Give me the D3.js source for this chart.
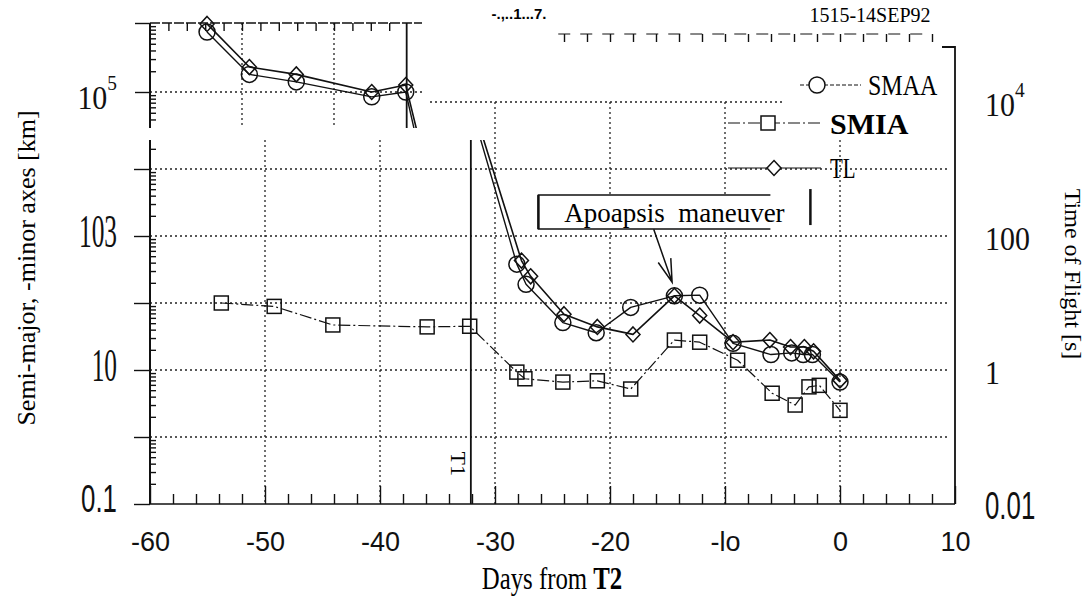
<!DOCTYPE html>
<html>
<head>
<meta charset="utf-8">
<script src="https://cdn.jsdelivr.net/npm/d3@7"></script>
<style>
  body { margin: 0; background: #fff; overflow: hidden; }
  svg { display: block; }
</style>
</head>
<body>
<div id="chart"></div>
<script>
// days from T2
const smaaDays = [-53.8, -49.2, -44.1, -35.9, -32.2, -28.1, -27.3, -24.1, -21.2, -18.2, -14.4, -12.2, -9.3, -6.0, -4.2, -3.2, -2.4, 0];
const smaaKm   = [7.4e5, 1.8e5, 1.4e5, 8.5e4, 1.0e5, 380, 190, 51, 36, 86, 128, 131, 25, 17, 18, 17, 17, 6.6];

const smiaDays = [-53.8, -49.2, -44.1, -35.9, -32.2, -28.1, -27.4, -24.1, -21.1, -18.2, -14.4, -12.2, -8.9, -5.9, -3.9, -2.7, -1.8, 0];
const smiaKm   = [100, 89, 47, 44, 45, 9.3, 7.4, 6.6, 6.9, 5.2, 28, 26, 14, 4.5, 3.0, 5.6, 5.9, 2.5];

// TL is read on the right axis (time of flight, s)
const tlDays = [-53.8, -49.2, -44.1, -35.9, -32.2, -27.7, -26.9, -24.0, -21.1, -18.0, -14.4, -12.2, -9.3, -6.1, -4.3, -3.1, -2.3, 0];
const tlSec  = [9.7e4, 2.3e4, 1.8e4, 1.0e4, 1.26e4, 43, 25, 6.8, 4.4, 3.4, 12.8, 6.5, 2.6, 2.8, 2.2, 2.2, 1.9, 0.7];

const xTicks = [-60, -50, -40, -30, -20, -10, 0, 10];
const xTickText = ["-60", "-50", "-40", "-30", "-20", "-lo", "0", "10"];
const leftTicks = [0.1, 10, 1000, 1e5];
const leftTickText = [["0.1", ""], ["10", ""], ["103", ""], ["10", "5"]];
const rightTicks = [0.01, 1, 100, 1e4];
const rightTickText = [["0.01", ""], ["1", ""], ["100", ""], ["10", "4"]];
const legendNames = ["SMAA", "SMIA", "TL"];

const t1Day = -32.1;
const maneuver = { day: -14.4, labelKm: 2200, fromDay: -16.2, fromKm: 1260, toDay: -14.6, toKm: 205 };

const W = 1092, H = 597;
const SERIF = "'Liberation Serif', 'Times New Roman', serif";
const SANS = "'Liberation Sans', Arial, sans-serif";

const main = { left: 150, right: 955, top: 140, bottom: 504 };
const inset = { left: 150, right: 422, top: 23, bottom: 128 };

const svg = d3.select("#chart")
    .append("svg")
    .attr("width", W)
    .attr("height", H)
    .style("font-family", SERIF);

const x = d3.scaleLinear().domain([-60, 10]).range([main.left, main.right]);
const y = d3.scaleLog().domain([0.1, 1e6]).range([main.bottom, 35]);
const yR = d3.scaleLog().domain([0.01, 1e5]).range([main.bottom, 35]);

// the pasted-in strip at the top left uses its own squeezed scales
const xTop = d3.scaleLinear().domain([-60, 10]).range([inset.left, 794]);
const yTop = d3.scaleLog().domain([1e4, 1e6]).range([161, inset.top]);
const yTopR = d3.scaleLog().domain([1e3, 1e5]).range([161, inset.top]);

const defs = svg.append("defs");
defs.append("clipPath").attr("id", "clipMain").append("rect")
    .attr("x", main.left - 10).attr("y", main.top)
    .attr("width", main.right - main.left + 10).attr("height", main.bottom - main.top + 10);
defs.append("clipPath").attr("id", "clipInset").append("rect")
    .attr("x", inset.left - 10).attr("y", inset.top - 10)
    .attr("width", inset.right - inset.left + 10).attr("height", inset.bottom - inset.top + 10);

//Grid
const grid = svg.append("g")
    .attr("stroke", "#222")
    .attr("stroke-width", 1.3)
    .attr("stroke-dasharray", "2,3");

[1, 10, 100, 1e3, 1e4].forEach(v => grid.append("line")
    .attr("x1", main.left).attr("x2", main.right - 6)
    .attr("y1", y(v)).attr("y2", y(v)));
grid.append("line")
    .attr("x1", inset.right + 8).attr("x2", 783)
    .attr("y1", y(1e5)).attr("y2", y(1e5));

[-50, -40, 0].forEach(d => grid.append("line")
    .attr("x1", x(d)).attr("x2", x(d))
    .attr("y1", main.top).attr("y2", main.bottom));
[-30, -20, -10].forEach(d => grid.append("line")
    .attr("x1", x(d)).attr("x2", x(d))
    .attr("y1", y(1e5)).attr("y2", main.bottom));

grid.append("line")
    .attr("x1", inset.left).attr("x2", inset.right)
    .attr("y1", yTop(1e5)).attr("y2", yTop(1e5));
[-50, -40].forEach(d => grid.append("line")
    .attr("x1", xTop(d)).attr("x2", xTop(d))
    .attr("y1", inset.top).attr("y2", inset.bottom));

// T1 lines
svg.append("line")
    .attr("x1", x(t1Day)).attr("x2", x(t1Day))
    .attr("y1", main.top).attr("y2", main.bottom)
    .attr("stroke", "#111").attr("stroke-width", 1.8);
svg.append("line")
    .attr("x1", xTop(t1Day)).attr("x2", xTop(t1Day))
    .attr("y1", inset.top).attr("y2", inset.bottom)
    .attr("stroke", "#111").attr("stroke-width", 1.8);
svg.append("text")
    .attr("transform", `translate(${x(t1Day) - 12},${y(0.4)}) rotate(90)`)
    .attr("text-anchor", "middle")
    .attr("dominant-baseline", "central")
    .attr("font-size", 22)
    .text("T1");

//Axes
const axisStyle = g => g.call(g => g.select(".domain").remove())
    .call(g => g.selectAll(".tick line").attr("stroke", "#111").attr("stroke-width", 1.4));

const minorLog = (lo, hi, keep) => {
    const out = [];
    for (let k = lo; k <= hi; k++)
        for (let m = 2; m <= 9; m++) {
            const v = m * Math.pow(10, k);
            if (keep(v)) out.push(v);
        }
    return out;
};

// bottom axis
svg.append("g")
    .attr("transform", `translate(0,${main.bottom})`)
    .call(d3.axisBottom(x).tickValues(xTicks).tickSizeInner(-18).tickSizeOuter(0).tickPadding(28)
        .tickFormat((d, i) => xTickText[i]))
    .call(axisStyle)
    .call(g => g.selectAll("text")
        .attr("font-family", SANS).attr("font-size", 27).attr("fill", "#111"));
svg.append("g")
    .attr("transform", `translate(0,${main.bottom})`)
    .call(d3.axisBottom(x).tickValues(d3.range(-58, 10, 2).filter(d => d % 10 !== 0))
        .tickSizeInner(-10).tickSizeOuter(0).tickFormat(""))
    .call(axisStyle);
svg.append("line")
    .attr("x1", main.left).attr("x2", main.right)
    .attr("y1", main.bottom).attr("y2", main.bottom)
    .attr("stroke", "#111").attr("stroke-width", 1.6);

// left axis, main part
svg.append("g")
    .attr("transform", `translate(${main.left},0)`)
    .call(d3.axisLeft(y).tickValues([0.1, 1, 10, 100, 1e3, 1e4]).tickSize(16).tickFormat(""))
    .call(axisStyle);
svg.append("g")
    .attr("transform", `translate(${main.left},0)`)
    .call(d3.axisRight(y).tickValues(minorLog(-1, 4, v => y(v) >= main.top + 4)).tickSize(6).tickFormat(""))
    .call(axisStyle);
svg.append("line")
    .attr("x1", main.left).attr("x2", main.left)
    .attr("y1", main.top).attr("y2", main.bottom)
    .attr("stroke", "#111").attr("stroke-width", 2);

// left axis + top axis of the inset
svg.append("g")
    .attr("transform", `translate(${inset.left},0)`)
    .call(d3.axisLeft(yTop).tickValues([1e5, 1e6]).tickSize(15).tickFormat(""))
    .call(axisStyle);
svg.append("g")
    .attr("transform", `translate(${inset.left},0)`)
    .call(d3.axisRight(yTop).tickValues(minorLog(4, 5, v => yTop(v) <= inset.bottom)).tickSize(6).tickFormat(""))
    .call(axisStyle);
svg.append("line")
    .attr("x1", inset.left).attr("x2", inset.left)
    .attr("y1", inset.top).attr("y2", inset.bottom)
    .attr("stroke", "#111").attr("stroke-width", 2);
svg.append("g")
    .attr("transform", `translate(0,${inset.top})`)
    .call(d3.axisBottom(xTop).tickValues(d3.range(-58, -33, 2)).tickSize(8).tickFormat(""))
    .call(axisStyle);
svg.append("line")
    .attr("x1", inset.left).attr("x2", inset.right)
    .attr("y1", inset.top).attr("y2", inset.top)
    .attr("stroke", "#111").attr("stroke-width", 1.3)
    .attr("stroke-dasharray", "10,2");

// broken tick row at the top right of the scan
svg.append("g")
    .attr("transform", "translate(0,34)")
    .call(d3.axisBottom(x).tickValues(d3.range(-24, 9, 2)).tickSize(8).tickFormat(""))
    .call(axisStyle);
svg.append("line")
    .attr("x1", x(-24.5)).attr("x2", x(7.5))
    .attr("y1", 34).attr("y2", 34)
    .attr("stroke", "#111").attr("stroke-width", 1)
    .attr("stroke-dasharray", "12,10");

// right axis
svg.append("path")
    .attr("d", `M${main.right - 13},47H${main.right}V${main.bottom}`)
    .attr("fill", "none").attr("stroke", "#111").attr("stroke-width", 1.8);

// tick labels
const tickLabel = (px, py, pair, anchor, side) => {
    const [base, sup] = pair;
    let font = SERIF, size = 34, sx = 0.88;
    if (base.startsWith("0.")) { font = SANS; size = 38; sx = 0.68; }
    else if (!sup && side === "left") { size = 47; sx = 0.54; }
    const t = svg.append("text")
        .attr("transform", `translate(${px},${py}) scale(${sx},1)`)
        .attr("text-anchor", anchor)
        .attr("dominant-baseline", "central")
        .attr("font-family", font)
        .attr("font-size", size)
        .attr("fill", "#111")
        .text(base);
    if (sup) t.append("tspan").attr("dy", -14).attr("font-size", 22).text(sup);
};
leftTicks.forEach((v, i) => tickLabel(117, y(v) - 5, leftTickText[i], "end", "left"));
rightTicks.forEach((v, i) => tickLabel(985, yR(v) + 2, rightTickText[i], "start", "right"));

// axis titles
svg.append("text")
    .attr("transform", "translate(26,268) rotate(-90)")
    .attr("text-anchor", "middle")
    .attr("dominant-baseline", "central")
    .attr("font-size", 26)
    .text("Semi-major, -minor axes [km]");

const xt = svg.append("text")
    .attr("transform", "translate(552,589) scale(0.8,1)")
    .attr("text-anchor", "middle")
    .attr("font-size", 31)
    .text("Days from ");
xt.append("tspan").attr("font-weight", "bold").text("T2");

svg.append("text")
    .attr("transform", "translate(1073,274) rotate(90)")
    .attr("text-anchor", "middle")
    .attr("dominant-baseline", "central")
    .attr("font-size", 24)
    .text("Time of Flight [s]");

svg.append("text")
    .attr("x", 870).attr("y", 22)
    .attr("text-anchor", "middle")
    .attr("font-size", 20)
    .text("1515-14SEP92");
svg.append("text")
    .attr("x", 519).attr("y", 19)
    .attr("text-anchor", "middle")
    .attr("font-family", SANS)
    .attr("font-weight", "bold")
    .attr("font-size", 15)
    .text("-.,..1...7.");

//Series
const zip = (ds, vs) => ds.map((d, i) => [d, vs[i]]);
const smaa = zip(smaaDays, smaaKm);
const smia = zip(smiaDays, smiaKm);
const tl = zip(tlDays, tlSec);

const circle = (g, px, py) => g.append("circle").attr("cx", px).attr("cy", py).attr("r", 8);
const square = (g, px, py) => g.append("rect").attr("x", px - 7).attr("y", py - 7).attr("width", 14).attr("height", 14);
const diamond = (g, px, py) => g.append("path").attr("d", `M${px},${py - 7.5}L${px + 7},${py}L${px},${py + 7.5}L${px - 7},${py}Z`);

const series = [
    { data: smaa, marker: circle, width: 1.4, dash: null, right: false },
    { data: smia, marker: square, width: 1.2, dash: "12,3,2,3", right: false },
    { data: tl, marker: diamond, width: 1.6, dash: null, right: true },
];

const drawSeries = (g, sx, sy, syR) => {
    series.forEach(s => {
        const ys = s.right ? syR : sy;
        g.append("path")
            .datum(s.data)
            .attr("fill", "none")
            .attr("stroke", "#111")
            .attr("stroke-width", s.width)
            .attr("stroke-dasharray", s.dash)
            .attr("stroke-linejoin", "round")
            .attr("d", d3.line().x(d => sx(d[0])).y(d => ys(d[1])));
        const mg = g.append("g").attr("fill", "none").attr("stroke", "#111").attr("stroke-width", 1.5);
        s.data.forEach(d => s.marker(mg, sx(d[0]), ys(d[1])));
    });
};

drawSeries(svg.append("g").attr("clip-path", "url(#clipMain)"), x, y, yR);
drawSeries(svg.append("g").attr("clip-path", "url(#clipInset)"), xTop, yTop, yTopR);

//Legend
const legendRows = [
    { y: 85, x1: 800, x2: 861, mx: 817, tx: 868, sx: 0.8, bold: false, dash: "4,2" },
    { y: 123, x1: 728, x2: 823, mx: 768, tx: 830, sx: 1, bold: true, dash: "12,3,2,3" },
    { y: 168, x1: 728, x2: 821, mx: 774, tx: 830, sx: 0.7, bold: false, dash: null },
];
const legend = svg.append("g");
legendRows.forEach((r, i) => {
    legend.append("line")
        .attr("x1", r.x1).attr("x2", r.x2).attr("y1", r.y).attr("y2", r.y)
        .attr("stroke", "#111").attr("stroke-width", 1.2)
        .attr("stroke-dasharray", r.dash);
    const mg = legend.append("g").attr("fill", "#fff").attr("stroke", "#111").attr("stroke-width", 1.5);
    series[i].marker(mg, r.mx, r.y);
    legend.append("text")
        .attr("transform", `translate(${r.tx},${r.y}) scale(${r.sx},1)`)
        .attr("dominant-baseline", "central")
        .attr("font-size", 30)
        .attr("font-weight", r.bold ? "bold" : "normal")
        .text(legendNames[i]);
});

//Annotation
const ax = x(maneuver.day), ay = y(maneuver.labelKm);
const ann = svg.append("g");
ann.append("path")
    .attr("d", `M${ax + 96},${ay - 18}H${ax - 136}V${ay + 16}H${ax + 96}`)
    .attr("fill", "#fff").attr("stroke", "#111").attr("stroke-width", 1.4);
ann.append("line")
    .attr("x1", ax - 136).attr("x2", ax - 136).attr("y1", ay - 18).attr("y2", ay + 16)
    .attr("stroke", "#111").attr("stroke-width", 2.5);
ann.append("text")
    .attr("x", ax).attr("y", ay)
    .attr("text-anchor", "middle")
    .attr("dominant-baseline", "central")
    .attr("font-size", 27)
    .attr("xml:space", "preserve")
    .style("white-space", "pre")
    .text("Apoapsis  maneuver");
ann.append("line")
    .attr("x1", ax + 136).attr("x2", ax + 136).attr("y1", ay - 24).attr("y2", ay + 12)
    .attr("stroke", "#111").attr("stroke-width", 2.5);

const fx = x(maneuver.fromDay), fy = y(maneuver.fromKm);
const tx = x(maneuver.toDay), ty = y(maneuver.toKm);
const ang = Math.atan2(ty - fy, tx - fx);
const head = 24, spread = 0.28;
ann.append("path")
    .attr("d", `M${fx},${fy}L${tx},${ty}` +
        `M${tx - head * Math.cos(ang - spread)},${ty - head * Math.sin(ang - spread)}L${tx},${ty}` +
        `L${tx - head * Math.cos(ang + spread)},${ty - head * Math.sin(ang + spread)}`)
    .attr("fill", "none").attr("stroke", "#111").attr("stroke-width", 1.5);
</script>
</body>
</html>
